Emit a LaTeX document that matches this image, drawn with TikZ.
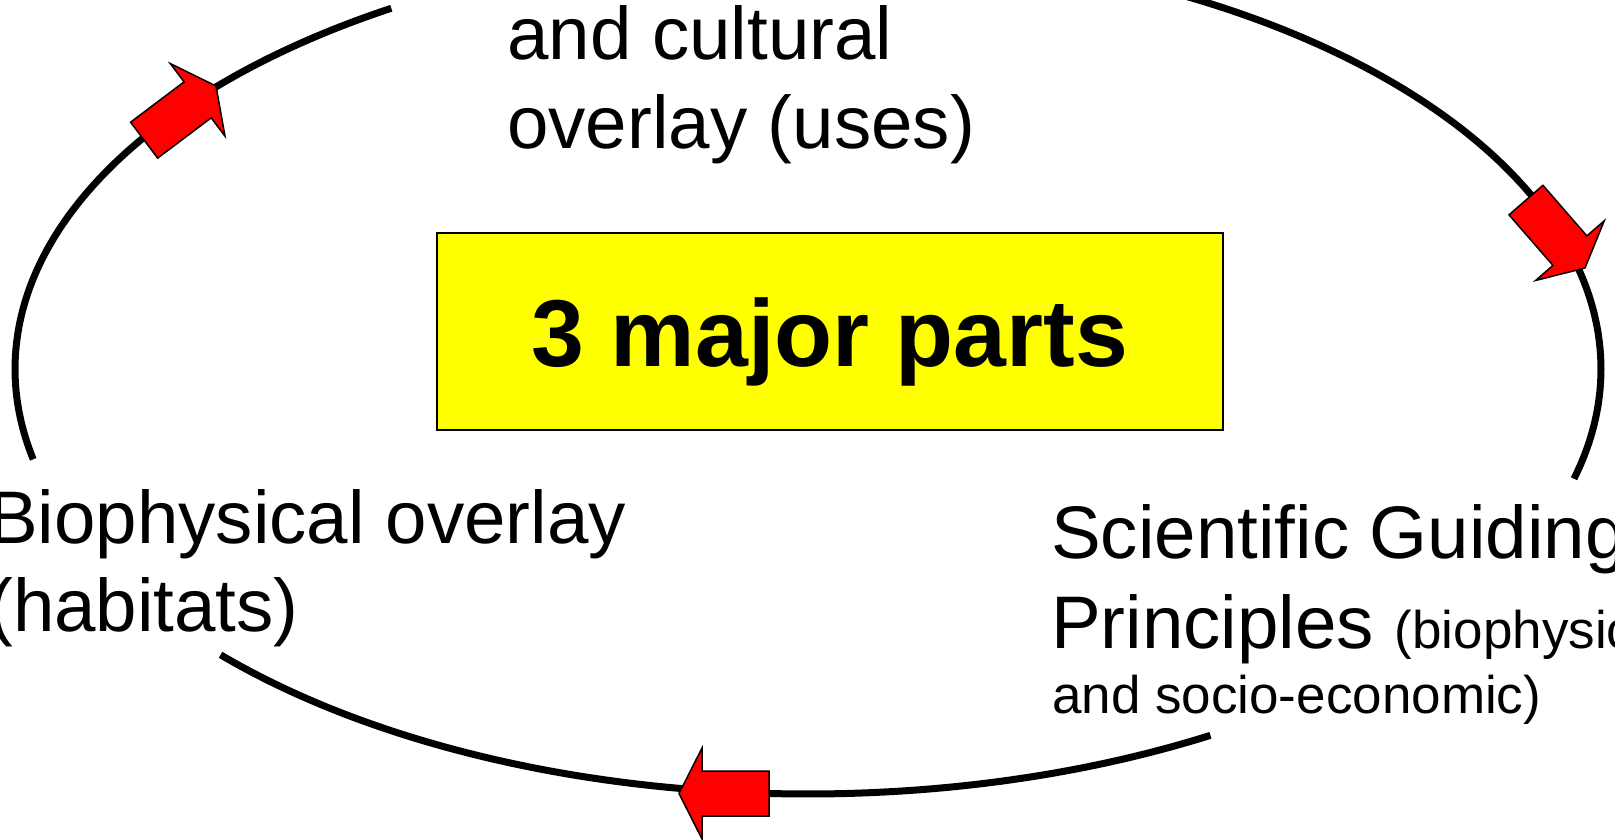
\documentclass[tikz,border=0pt]{standalone}
\usepackage{fontspec}
\setmainfont{Liberation Sans}
\definecolor{boxyellow}{RGB}{255,255,0}
\definecolor{arrowred}{RGB}{255,0,0}
\begin{document}
\begin{tikzpicture}[x=1pt,y=-1pt,
  loopline/.style={line width=7pt, line cap=butt},
  redarrow/.style={fill=arrowred, draw=black, line width=1.5pt, line join=miter},
  bigtext/.style={font=\fontsize{74.5}{89}\selectfont, inner sep=0pt, anchor=base west},
  smalltext/.style={font=\fontsize{53}{64}\selectfont, inner sep=0pt, anchor=base west},
  blockarrow/.pic={\path[redarrow] (0,0) -- (-23,45.5) -- (-23,22.5) -- (-90,22.5) -- (-90,-22.5) -- (-23,-22.5) -- (-23,-45.5) -- cycle;}]
\useasboundingbox (0,0) rectangle (1615,839);
\clip (0,0) rectangle (1615,839);
% cycle ellipse segments
\draw[loopline] plot[domain=121.7:192.3, samples=120] ({808+793*cos(\x)},{369-424*sin(\x)});
\draw[loopline] plot[domain=222.2:300.5, samples=120] ({808+793*cos(\x)},{370-424*sin(\x)});
\draw[loopline] plot[domain=345:430, samples=120] ({808+793*cos(\x)},{369-424*sin(\x)});
% arrows
\pic[rotate=37] at (216,86) {blockarrow};
\pic[rotate=-49] at (1585,268) {blockarrow};
\pic[rotate=180] at (679,793.5) {blockarrow};
% centre box
\node (hub) [draw=black, line width=1.5pt, fill=boxyellow, minimum width=786pt, minimum height=197pt,
  inner sep=0pt, text height=69pt, text depth=0pt, font=\fontsize{95}{110}\selectfont\bfseries]
  at (830,331.5) {3 major parts};
% top text
\node (top1) [bigtext] at (507,59) {and cultural};
\node (top2) [bigtext] at (507,148) {overlay (uses)};
% left text
\node (left1) [bigtext] at (-12,543) {Biophysical overlay};
\node (left2) [bigtext] at (-12,631) {(habitats)};
% right text
\node (right1) [bigtext] at (1051,558) {Scientific Guiding};
\node (right2) [bigtext] at (1051,648) {Principles {\fontsize{53}{64}\selectfont (biophysical}};
\node (right3) [smalltext] at (1052,713) {and socio-economic)};
\end{tikzpicture}
\end{document}
